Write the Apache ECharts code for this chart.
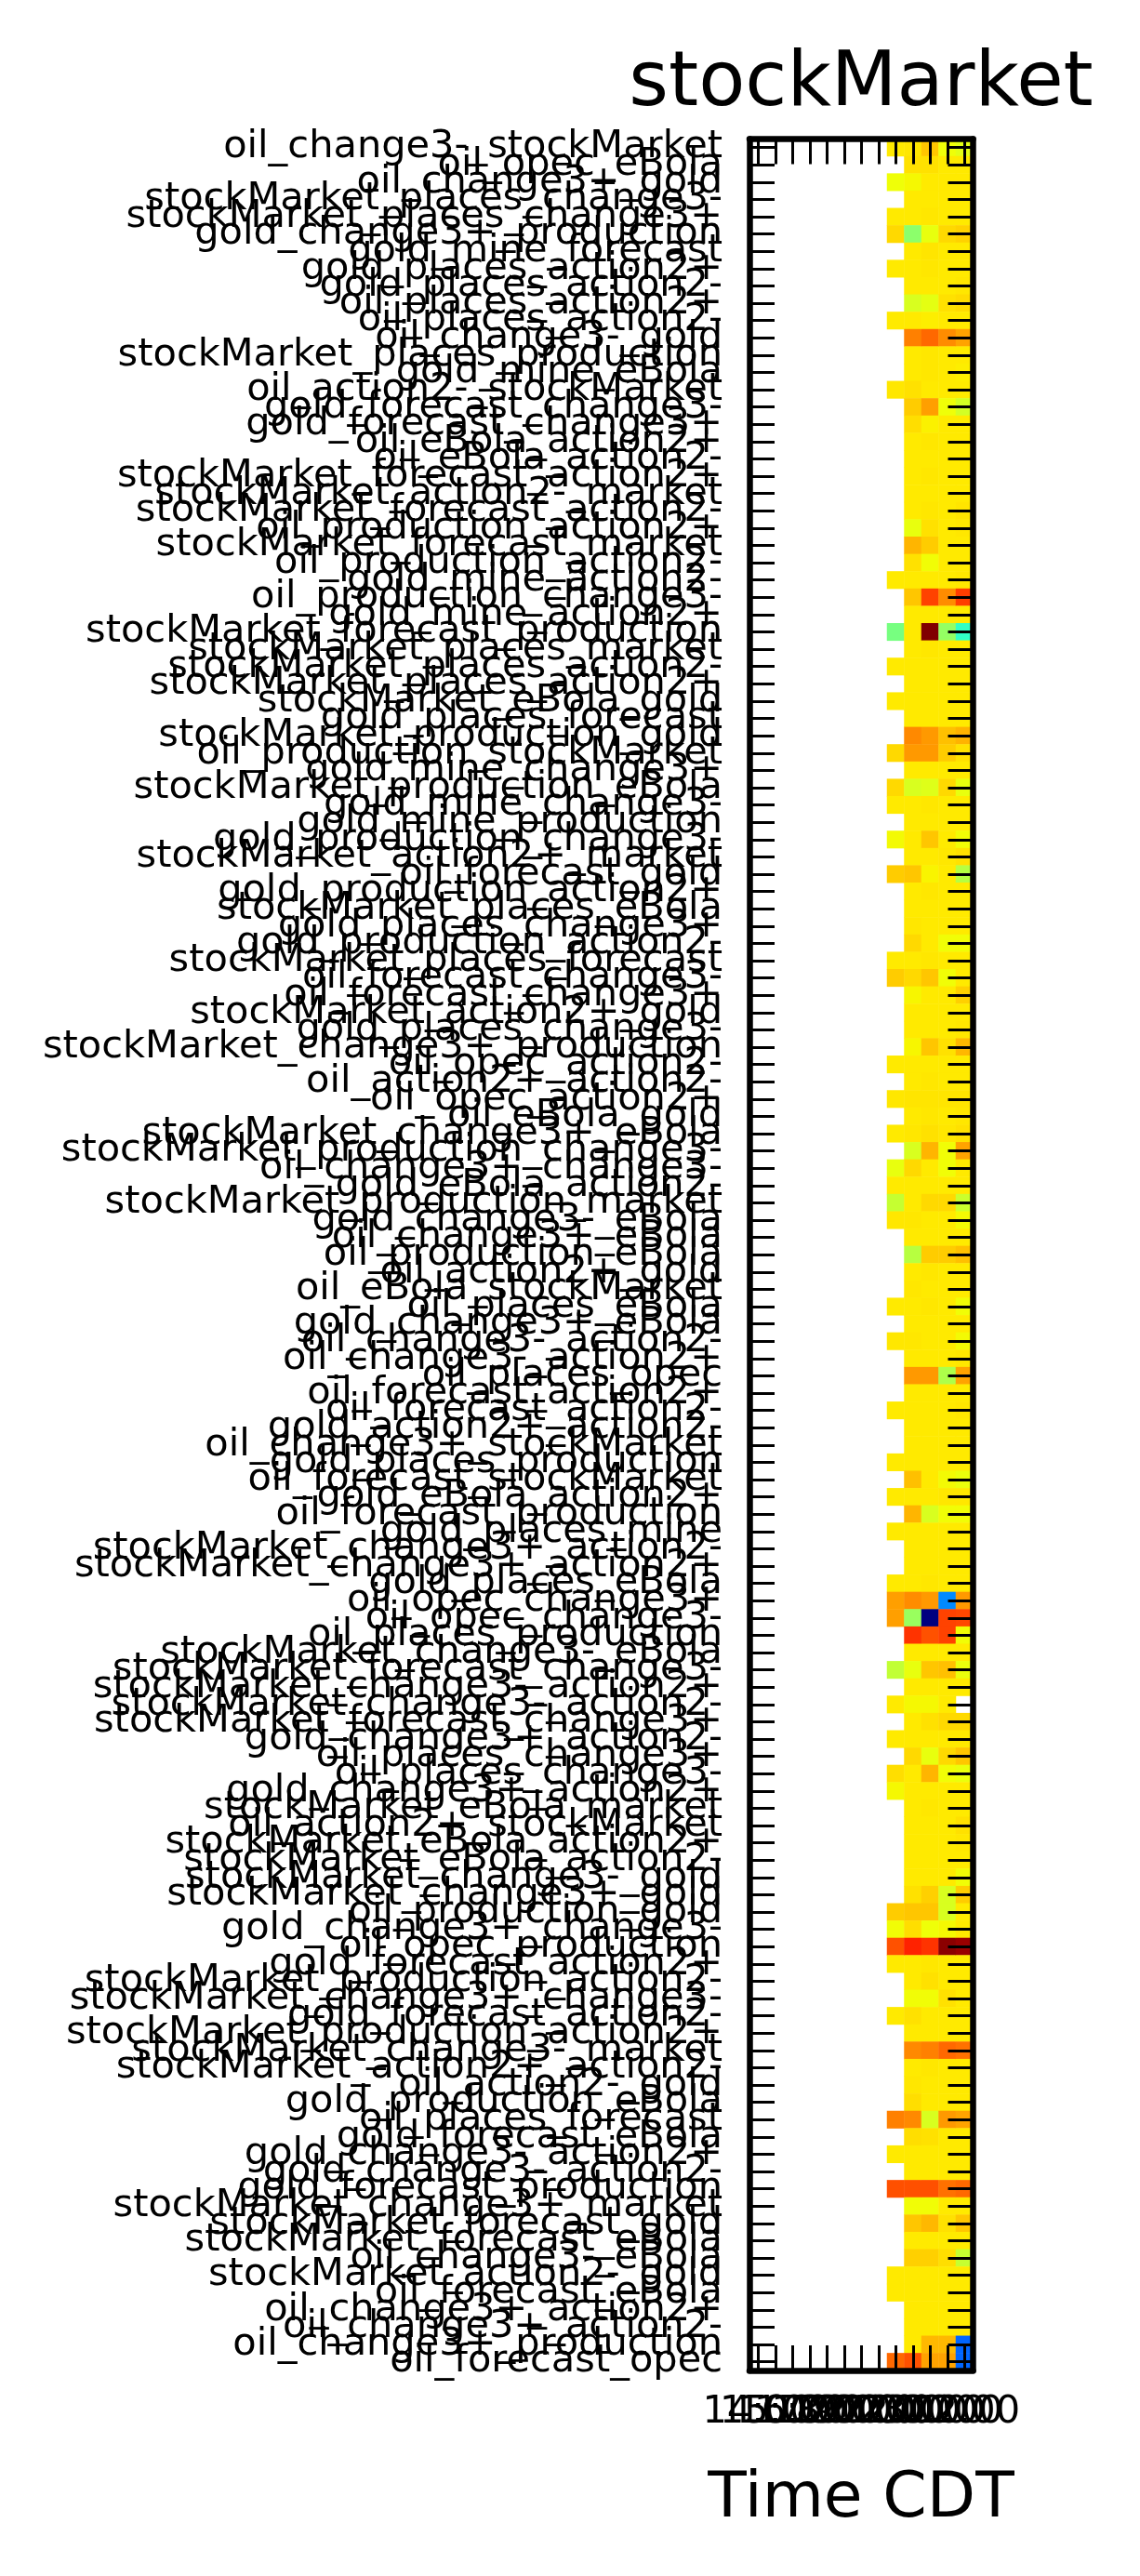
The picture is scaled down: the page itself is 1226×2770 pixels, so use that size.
<!DOCTYPE html>
<html><head><meta charset="utf-8">
<script src="https://cdn.jsdelivr.net/npm/echarts@6.0.0/dist/echarts.min.js"></script>
<style>html,body{margin:0;padding:0;background:#fff}#c{width:1226px;height:2770px}</style>
</head><body><div id="c"></div>
<script>
const timeLabels = ["14:00","15:00","16:00","17:00","18:00","19:00","20:00","21:00","22:00","23:00","00:00","01:00","02:00"];

const pairLabels = [
"oil_change3-_stockMarket","oil_opec_eBola","oil_change3+_gold","stockMarket_places_change3-","stockMarket_places_change3+",
"gold_change3+_production","gold_mine_forecast","gold_places_action2+","gold_places_action2-","oil_places_action2+",
"oil_places_action2-","oil_change3-_gold","stockMarket_places_production","gold_mine_eBola","oil_action2-_stockMarket",
"gold_forecast_change3-","gold_forecast_change3+","oil_eBola_action2+","oil_eBola_action2-","stockMarket_forecast_action2+",
"stockMarket_action2-_market","stockMarket_forecast_action2-","oil_production_action2+","stockMarket_forecast_market","oil_production_action2-",
"gold_mine_action2-","oil_production_change3-","gold_mine_action2+","stockMarket_forecast_production","stockMarket_places_market",
"stockMarket_places_action2-","stockMarket_places_action2+","stockMarket_eBola_gold","gold_places_forecast","stockMarket_production_gold",
"oil_production_stockMarket","gold_mine_change3+","stockMarket_production_eBola","gold_mine_change3-","gold_mine_production",
"gold_production_change3-","stockMarket_action2+_market","oil_forecast_gold","gold_production_action2+","stockMarket_places_eBola",
"gold_places_change3+","gold_production_action2-","stockMarket_places_forecast","oil_forecast_change3-","oil_forecast_change3+",
"stockMarket_action2+_gold","gold_places_change3-","stockMarket_change3+_production","oil_opec_action2-","oil_action2+_action2-",
"oil_opec_action2+","oil_eBola_gold","stockMarket_change3+_eBola","stockMarket_production_change3-","oil_change3+_change3-",
"gold_eBola_action2-","stockMarket_production_market","gold_change3-_eBola","oil_change3+_eBola","oil_production_eBola",
"oil_action2+_gold","oil_eBola_stockMarket","oil_places_eBola","gold_change3+_eBola","oil_change3-_action2-",
"oil_change3-_action2+","oil_places_opec","oil_forecast_action2+","oil_forecast_action2-","gold_action2+_action2-",
"oil_change3+_stockMarket","gold_places_production","oil_forecast_stockMarket","gold_eBola_action2+","oil_forecast_production",
"gold_places_mine","stockMarket_change3+_action2-","stockMarket_change3+_action2+","gold_places_eBola","oil_opec_change3+",
"oil_opec_change3-","oil_places_production","stockMarket_change3-_eBola","stockMarket_forecast_change3-","stockMarket_change3-_action2+",
"stockMarket_change3-_action2-","stockMarket_forecast_change3+","gold_change3+_action2-","oil_places_change3+","oil_places_change3-",
"gold_change3+_action2+","stockMarket_eBola_market","oil_action2+_stockMarket","stockMarket_eBola_action2+","stockMarket_eBola_action2-",
"stockMarket_change3-_gold","stockMarket_change3+_gold","oil_production_gold","gold_change3+_change3-","oil_opec_production",
"gold_forecast_action2+","stockMarket_production_action2-","stockMarket_change3+_change3-","gold_forecast_action2-","stockMarket_production_action2+",
"stockMarket_change3-_market","stockMarket_action2+_action2-","oil_action2-_gold","gold_production_eBola","oil_places_forecast",
"gold_forecast_eBola","gold_change3-_action2+","gold_change3-_action2-","gold_forecast_production","stockMarket_change3+_market",
"stockMarket_forecast_gold","stockMarket_forecast_eBola","oil_change3-_eBola","stockMarket_action2-_gold","oil_forecast_eBola",
"oil_change3+_action2+","oil_change3+_action2-","oil_change3+_production","oil_forecast_opec"
];

// values per time column (index into timeLabels), one value per pair row, null = no data
const col22 = [
0.662,null,0.64,null,0.662,0.68,null,0.662,null,null,
0.662,null,null,null,0.665,null,null,null,null,null,
null,null,null,null,null,0.662,null,null,0.495,null,
0.662,null,0.662,null,null,0.68,null,0.68,0.662,null,
0.645,null,0.694,null,null,null,null,0.662,0.694,null,
null,null,null,0.662,null,0.665,null,0.662,null,0.632,
0.662,0.59,0.665,null,null,null,null,0.662,null,0.665,
null,null,null,0.662,null,null,0.662,null,0.662,null,
0.662,null,null,0.662,0.742,0.742,null,null,0.585,null,
0.662,null,0.662,null,0.675,0.648,null,null,null,null,
null,null,0.694,0.642,0.824,0.662,null,null,0.662,null,
null,null,null,null,0.775,null,0.662,null,0.825,null,
null,null,null,0.662,0.662,null,null,null,0.80
];
const col23 = [
0.665,0.672,0.648,0.662,0.662,0.52,0.662,0.662,0.662,0.613,
0.662,0.775,0.662,0.662,0.672,0.694,0.675,0.662,0.662,0.662,
0.662,0.662,0.632,0.718,0.672,0.662,0.70,0.662,0.662,0.662,
0.662,0.662,0.662,0.662,0.765,0.748,0.662,0.613,0.662,0.662,
0.662,0.662,0.70,0.662,0.662,0.665,0.68,0.662,0.68,0.65,
0.662,0.662,0.65,0.662,0.662,0.668,0.662,0.665,0.613,0.68,
0.662,0.662,0.665,0.662,0.573,0.662,0.665,0.662,0.662,0.665,
0.662,0.748,0.662,0.662,0.662,0.662,0.662,0.707,0.662,0.718,
0.662,0.662,0.662,0.662,0.762,0.536,0.856,0.662,0.632,0.662,
0.648,0.662,0.662,0.68,0.662,0.662,0.662,0.662,0.662,0.662,
0.662,0.672,0.70,0.675,0.874,0.662,0.662,0.642,0.672,0.662,
0.765,0.662,0.665,0.675,0.765,0.675,0.662,0.662,0.825,0.642,
0.70,0.662,0.69,0.662,0.662,0.662,0.662,0.662,0.824
];
const col00 = [
0.70,0.672,0.662,0.662,0.665,0.632,0.668,0.665,0.662,0.628,
0.658,0.80,0.665,0.665,0.662,0.742,0.655,0.665,0.662,0.665,
0.662,0.665,0.672,0.694,0.642,0.662,0.84,0.662,1.0,0.665,
0.662,0.662,0.662,0.662,0.748,0.748,0.662,0.62,0.665,0.662,
0.70,0.662,0.652,0.665,0.662,0.662,0.662,0.665,0.70,0.662,
0.662,0.662,0.70,0.662,0.665,0.668,0.665,0.672,0.718,0.662,
0.662,0.68,0.662,0.662,0.694,0.665,0.662,0.665,0.662,0.662,
0.662,0.748,0.662,0.662,0.662,0.662,0.662,0.662,0.662,0.613,
0.662,0.662,0.662,0.665,0.748,0.0,0.824,0.662,0.70,0.662,
0.648,0.672,0.662,0.632,0.718,0.662,0.665,0.662,0.662,0.662,
0.662,0.69,0.70,0.64,0.856,0.665,0.672,0.642,0.662,0.662,
0.775,0.665,0.662,0.662,0.613,0.672,0.662,0.662,0.825,0.642,
0.715,0.662,0.69,0.662,0.662,0.662,0.662,0.715,0.737
];
const col01 = [
0.64,0.662,0.662,0.662,0.662,0.68,0.662,0.662,0.662,0.672,
0.662,0.762,0.662,0.662,0.662,0.64,0.662,0.662,0.662,0.662,
0.662,0.662,0.662,0.662,0.662,0.662,0.762,0.662,0.53,0.662,
0.662,0.662,0.662,0.662,0.707,0.694,0.662,0.68,0.662,0.662,
0.662,0.665,0.662,0.662,0.662,0.662,0.642,0.662,0.642,0.662,
0.662,0.662,0.672,0.662,0.662,0.668,0.662,0.665,0.642,0.642,
0.662,0.68,0.662,0.662,0.694,0.662,0.662,0.662,0.662,0.662,
0.662,0.56,0.662,0.662,0.662,0.662,0.662,0.645,0.665,0.642,
0.662,0.662,0.662,0.662,0.26,0.84,0.84,0.662,0.707,0.662,
0.662,0.68,0.662,0.68,0.642,0.662,0.662,0.662,0.662,0.662,
0.662,0.613,0.613,0.648,0.99,0.662,0.662,0.672,0.662,0.662,
0.80,0.662,0.662,0.662,0.748,0.662,0.662,0.662,0.79,0.662,
0.672,0.662,0.675,0.662,0.662,0.662,0.662,0.715,0.737
];
const col02 = [
0.625,0.662,0.662,0.662,0.662,0.688,0.662,0.662,0.665,0.678,
0.662,0.737,0.662,0.658,0.662,0.605,0.662,0.662,0.662,0.662,
0.662,0.668,0.665,0.662,0.662,0.665,0.845,0.662,0.41,0.662,
0.662,0.662,0.662,0.662,0.72,0.672,0.662,0.632,0.662,0.662,
0.642,0.672,0.57,0.662,0.662,0.662,0.642,0.662,0.662,0.69,
0.662,0.665,0.715,0.662,0.662,0.668,0.665,0.672,0.737,0.662,
0.662,0.595,0.645,0.662,0.707,0.662,0.662,0.642,0.662,0.645,
0.665,0.737,0.662,0.665,0.662,0.662,0.662,0.635,0.665,0.642,
0.662,0.662,0.662,0.662,0.748,0.835,0.642,0.662,0.635,0.662,
null,0.68,0.662,0.70,0.635,0.662,0.662,0.672,0.665,0.662,
0.642,0.694,0.662,0.662,0.978,0.662,0.662,0.662,0.662,0.662,
0.79,0.662,0.662,0.662,0.737,0.662,0.662,0.662,0.80,0.662,
0.70,0.662,0.59,0.662,0.662,0.662,0.662,0.225,0.225
];
const valueColumns = [[8, col22], [9, col23], [10, col00], [11, col01], [12, col02]];

function jet(v) {
  const seg = {
    r: [[0,0],[0.35,0],[0.66,1],[0.89,1],[1,0.5]],
    g: [[0,0],[0.125,0],[0.375,1],[0.64,1],[0.91,0],[1,0]],
    b: [[0,0.5],[0.11,1],[0.34,1],[0.65,0],[1,0]]
  };
  function ch(s) {
    for (let i = 1; i < s.length; i++) {
      if (v <= s[i][0]) {
        const t = (v - s[i-1][0]) / (s[i][0] - s[i-1][0]);
        return s[i-1][1] + t * (s[i][1] - s[i-1][1]);
      }
    }
    return s[s.length-1][1];
  }
  const c = [ch(seg.r), ch(seg.g), ch(seg.b)].map(x => Math.round(x * 255));
  return 'rgb(' + c.join(',') + ')';
}
const jetColors = [];
for (let i = 0; i <= 200; i++) jetColors.push(jet(i / 200));

const heatData = [];
valueColumns.forEach(([ci, arr]) => {
  arr.forEach((v, ri) => { if (v !== null) heatData.push([ci, ri, v]); });
});

const FONT = 'DejaVu Sans';
const chart = echarts.init(document.getElementById('c'), null, {renderer: 'canvas'});
const axisLine = {show: true, lineStyle: {color: '#000', width: 6.5}};
const tick = {show: true, inside: true, alignWithLabel: true, interval: 0, length: 27, lineStyle: {color: '#000', width: 3}};
chart.setOption({
  animation: false,
  backgroundColor: '#fff',
  grid: {left: 806, right: 179.5, top: 149.4, bottom: 221, containLabel: false},
  xAxis: [
    {type: 'category', data: timeLabels, position: 'bottom', boundaryGap: true, z: 10,
     axisLine: axisLine, axisTick: tick, splitLine: {show: false},
     axisLabel: {interval: 0, color: '#000', fontFamily: FONT, fontSize: 41.5, margin: 24}},
    {type: 'category', data: timeLabels, position: 'top', boundaryGap: true, z: 10,
     axisLine: axisLine, axisTick: tick, splitLine: {show: false}, axisLabel: {show: false}}
  ],
  yAxis: [
    {type: 'category', data: pairLabels, inverse: true, position: 'left', boundaryGap: true, z: 10,
     axisLine: axisLine, axisTick: tick, splitLine: {show: false},
     axisLabel: {interval: 0, color: '#000', fontFamily: FONT, fontSize: 41.5, margin: 29}},
    {type: 'category', data: pairLabels, inverse: true, position: 'right', boundaryGap: true, z: 10,
     axisLine: axisLine, axisTick: tick, splitLine: {show: false}, axisLabel: {show: false}}
  ],
  visualMap: {show: false, type: 'continuous', min: 0, max: 1, dimension: 2, seriesIndex: 0,
    inRange: {color: jetColors}},
  series: [{type: 'heatmap', xAxisIndex: 0, yAxisIndex: 0, data: heatData,
    itemStyle: {borderWidth: 0}, emphasis: {disabled: true}, progressive: 0, z: 1}],
  graphic: [
    {type: 'text', x: 926, y: 92, z: 100, style: {text: 'stockMarket', font: '82px "DejaVu Sans"', fill: '#000', textAlign: 'center', textVerticalAlign: 'middle'}},
    {type: 'text', x: 926, y: 2688, z: 100, style: {text: 'Time CDT', font: '68px "DejaVu Sans"', fill: '#000', textAlign: 'center', textVerticalAlign: 'middle'}}
  ]
});
</script>
</body></html>
